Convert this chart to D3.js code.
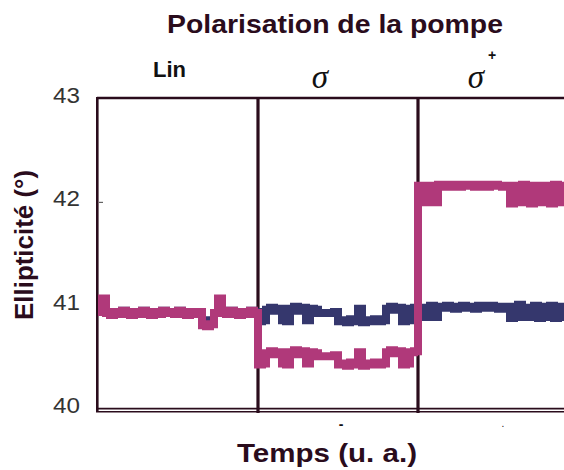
<!DOCTYPE html>
<html><head><meta charset="utf-8">
<script src="https://cdn.jsdelivr.net/npm/d3@7"></script>
<style>body{margin:0;background:#fff}svg{display:block}</style>
</head><body>
<svg id="c" width="564" height="470"></svg>
<script>
// ---- data (ellipticity in degrees, one value per time sample) ----
const segments = ["Lin", "σ", "σ"];
const segmentStarts = [0, 40, 80];
const yTicks = [40, 41, 42, 43];
const linMagenta = [40.93,41.06,40.92,40.90,40.93,40.91,40.94,40.92,40.90,40.93,40.91,40.94,40.92,40.90,40.93,40.91,40.94,40.92,40.93,40.91,40.94,40.92,40.90,40.93,40.91,40.93,40.80,40.79,40.81,40.92,41.06,40.93,40.91,40.94,40.92,40.90,40.93,40.91,40.94,40.92];
const linNavy = [40.93,40.95,40.92,40.91,40.93,40.92,40.94,40.92,40.91,40.93,40.92,40.94,40.92,40.91,40.93,40.92,40.94,40.92,40.93,40.92,40.94,40.92,40.91,40.93,40.92,40.93,40.84,40.84,40.85,40.92,40.96,40.93,40.92,40.94,40.92,40.91,40.93,40.92,40.94,40.93];
const sigmaMinusNavy = [40.84,40.85,40.95,40.97,40.94,40.96,40.85,40.84,40.96,40.98,40.94,40.97,40.85,40.96,40.95,40.92,40.92,40.92,40.92,40.93,40.84,40.85,40.83,40.86,40.84,40.96,40.83,40.85,40.84,40.86,40.84,40.85,40.96,40.98,40.95,40.97,40.84,40.85,40.96,40.97];
const sigmaMinusMagenta = [40.42,40.43,40.53,40.55,40.52,40.54,40.43,40.42,40.54,40.56,40.52,40.55,40.43,40.54,40.53,40.50,40.50,40.50,40.50,40.51,40.42,40.43,40.41,40.44,40.42,40.54,40.41,40.43,40.42,40.44,40.42,40.43,40.54,40.56,40.53,40.55,40.42,40.43,40.54,40.55];
const sigmaPlusNavy = [40.97,40.88,40.97,40.99,40.88,40.98,40.97,40.99,40.98,40.96,40.98,40.99,40.97,40.98,40.96,40.99,40.98,40.97,40.99,40.98,40.96,40.98,40.97,40.87,40.98,41.00,40.88,40.97,40.88,40.99,40.87,40.98,40.88,40.99,40.87,40.98,40.88];
const sigmaPlusMagenta = [42.15,41.99,42.00,42.15,41.99,42.16,42.15,42.14,42.16,42.15,42.14,42.16,42.15,42.16,42.14,42.15,42.16,42.14,42.15,42.16,42.15,42.14,42.15,41.98,41.99,42.15,42.16,41.99,41.98,42.15,42.14,41.99,42.15,41.98,42.16,41.99,42.15];

const navy = linNavy.concat(sigmaMinusNavy, sigmaPlusNavy);
const magenta = linMagenta.concat(sigmaMinusMagenta, sigmaPlusMagenta);

// ---- drawing ----
const svg = d3.select("#c");
const frame = "#2a0c1c";
const x = d3.scaleLinear().domain([0, 117]).range([98, 566]);
const y = d3.scaleLinear().domain([40, 43]).range([408, 98]);

function pts(arr){ const p = arr.map((v,i)=>[i,v]); p.push([arr.length, arr[arr.length-1]]); return p; }

// frame
svg.append("line").attr("x1",97).attr("x2",564).attr("y1",98).attr("y2",98).attr("stroke",frame).attr("stroke-width",2.6);
svg.append("line").attr("x1",97.3).attr("x2",97.3).attr("y1",97).attr("y2",412).attr("stroke",frame).attr("stroke-width",2.6);
svg.append("line").attr("x1",96).attr("x2",564).attr("y1",408.6).attr("y2",408.6).attr("stroke",frame).attr("stroke-width",1.6);
svg.append("line").attr("x1",96).attr("x2",564).attr("y1",411.8).attr("y2",411.8).attr("stroke",frame).attr("stroke-width",1.6);
svg.selectAll("line.div").data(segmentStarts.slice(1)).enter().append("line").attr("class","div")
  .attr("x1",d=>x(d)).attr("x2",d=>x(d)).attr("y1",97).attr("y2",413).attr("stroke",frame).attr("stroke-width",3.2);
// small tick at 42
svg.append("line").attr("x1",99).attr("x2",103).attr("y1",y(42)+1).attr("y2",y(42)+1).attr("stroke","#444").attr("stroke-width",1);

// y axis
const ya = svg.append("g").attr("transform","translate(97,0)")
  .call(d3.axisLeft(y).tickValues(yTicks).tickSize(0).tickPadding(17).tickFormat(d3.format("d")));
ya.select(".domain").remove();
ya.selectAll("text").attr("font-family","Liberation Sans, Arial, sans-serif").attr("font-size",22)
  .attr("fill","#333").attr("dy","0.2em").attr("textLength",27).attr("lengthAdjust","spacingAndGlyphs");

// series
const line = d3.line().x(d=>x(d[0])).y(d=>y(d[1])).curve(d3.curveStepAfter);
svg.append("path").attr("d",line(pts(navy))).attr("fill","none").attr("stroke","#35376d").attr("stroke-width",8);
svg.append("path").attr("d",line(pts(magenta))).attr("fill","none").attr("stroke","#b0397a").attr("stroke-width",8);

// texts
const f = "Liberation Sans, Arial, sans-serif";
svg.append("text").attr("x",335).attr("y",33).attr("text-anchor","middle").attr("font-family",f).attr("font-weight","bold")
  .attr("font-size",25.5).attr("fill",frame).attr("textLength",336).attr("lengthAdjust","spacingAndGlyphs").text("Polarisation de la pompe");
svg.append("text").attr("x",153).attr("y",77).attr("font-family",f).attr("font-weight","bold").attr("font-size",22).attr("fill","#111").text(segments[0]);
svg.append("text").attr("x",320).attr("y",88).attr("text-anchor","middle").attr("font-family","Liberation Serif, Times New Roman, serif")
  .attr("font-style","italic").attr("font-size",33).attr("fill","#111").text(segments[1]);
svg.append("text").attr("x",476).attr("y",88).attr("text-anchor","middle").attr("font-family","Liberation Serif, Times New Roman, serif")
  .attr("font-style","italic").attr("font-size",33).attr("fill","#111").text(segments[2]);
svg.append("text").attr("x",492).attr("y",60).attr("text-anchor","middle").attr("font-family",f).attr("font-weight","bold").attr("font-size",14).attr("fill","#111").text("+");
svg.append("text").attr("x",341).attr("y",429).attr("text-anchor","middle").attr("font-family",f).attr("font-weight","bold").attr("font-size",14).attr("fill","#111").text("-");
svg.append("text").attr("x",503).attr("y",427).attr("text-anchor","middle").attr("font-family",f).attr("font-size",10).attr("fill","#111").text(".");
svg.append("text").attr("transform","translate(33,245) rotate(-90)").attr("text-anchor","middle").attr("font-family",f).attr("font-weight","bold")
  .attr("font-size",25).attr("fill",frame).attr("textLength",150).attr("lengthAdjust","spacingAndGlyphs").text("Ellipticité (°)");
svg.append("text").attr("x",327).attr("y",462).attr("text-anchor","middle").attr("font-family",f).attr("font-weight","bold")
  .attr("font-size",26).attr("fill",frame).attr("textLength",180).attr("lengthAdjust","spacingAndGlyphs").text("Temps (u. a.)");
</script>
</body></html>
